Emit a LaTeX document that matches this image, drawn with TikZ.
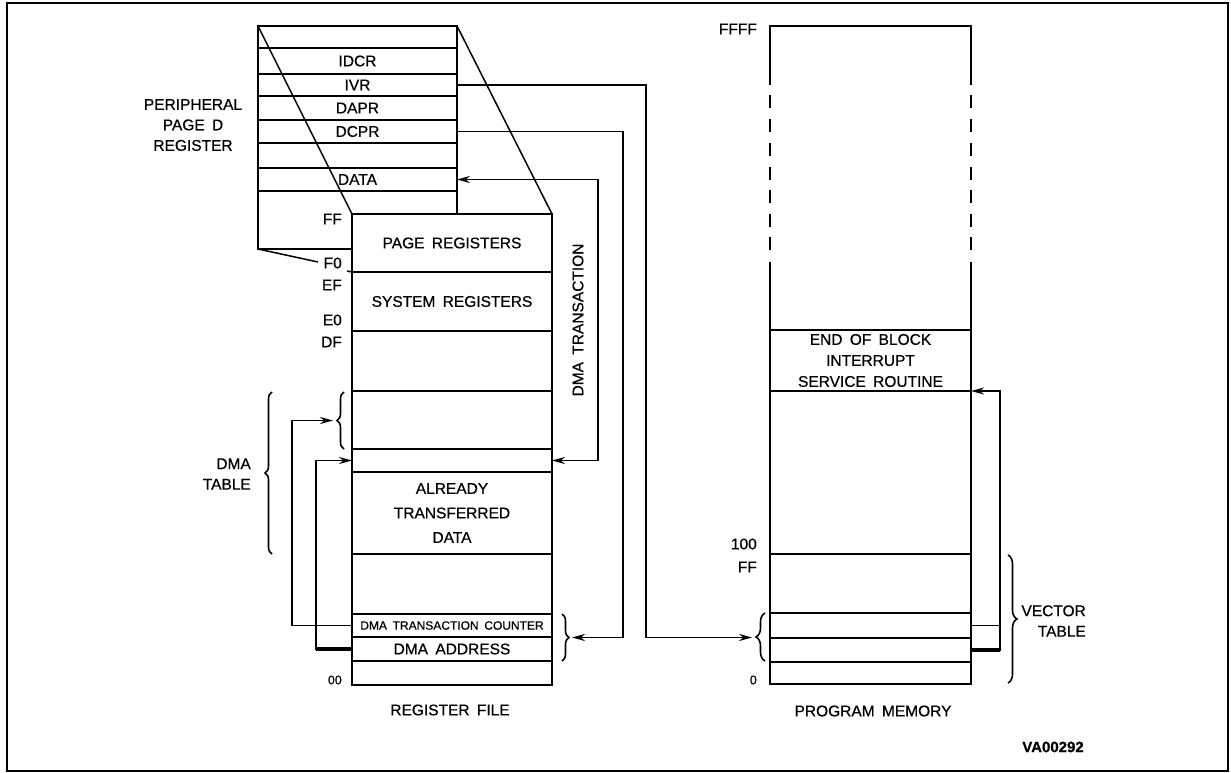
\documentclass[tikz,border=0pt]{standalone}
\usepackage{fontspec}
\setmainfont{Liberation Sans}[WordSpace=1.7,FakeBold=0.6]
\usetikzlibrary{arrows.meta,decorations.pathreplacing}
\begin{document}
\begin{tikzpicture}[x=1pt,y=-1pt,
  cell/.style={draw, line width=1.9pt, anchor=north west, inner sep=0pt, outer sep=0pt, font=\fontsize{15.5}{18}\selectfont},
  lbl/.style={inner sep=0pt, font=\fontsize{15.5}{20.5}\selectfont},
  small/.style={inner sep=0pt, font=\fontsize{12.5}{15}\selectfont},
  conn/.style={line width=1.9pt},
  tip/.style={-{Stealth[length=13pt,width=7pt]}},
  dtip/.style={{Stealth[length=13pt,width=7pt]}-{Stealth[length=13pt,width=7pt]}},
  brc/.style={decorate, decoration={brace, amplitude=#1}, line width=1.6pt},
  brc/.default=7pt,
  thickline/.style={line width=3.4pt},
  diag/.style={line width=1.5pt},
]
\useasboundingbox (0,0) rectangle (1231,773);
\draw[line width=1.9pt] (7,3) rectangle (1228,771);

% ---------- peripheral page D registers ----------
\node[cell, minimum width=199pt, minimum height=22pt] (p0)   at (258,26)  {};
\node[cell, minimum width=199pt, minimum height=26pt] (idcr) at (258,48)  {IDCR};
\node[cell, minimum width=199pt, minimum height=22pt] (ivr)  at (258,74)  {IVR};
\node[cell, minimum width=199pt, minimum height=24pt] (dapr) at (258,96)  {DAPR};
\node[cell, minimum width=199pt, minimum height=23pt] (dcpr) at (258,120) {DCPR};
\node[cell, minimum width=199pt, minimum height=25pt] (pe)   at (258,143) {};
\node[cell, minimum width=199pt, minimum height=23pt] (data) at (258,168) {DATA};
\node[cell, minimum width=199pt, minimum height=58pt] (pb)   at (258,191) {};

% ---------- register file ----------
\node[cell, fill=white, minimum width=200pt, minimum height=58pt] (page) at (352,214) {PAGE REGISTERS};
\node[cell, minimum width=200pt, minimum height=59pt] (sys)  at (352,272) {SYSTEM REGISTERS};
\node[cell, minimum width=200pt, minimum height=60pt] (r2)   at (352,331) {};
\node[cell, minimum width=200pt, minimum height=58pt] (r3)   at (352,391) {};
\node[cell, minimum width=200pt, minimum height=23pt] (r4)   at (352,449) {};
\node[cell, minimum width=200pt, minimum height=82pt, align=center, font=\fontsize{15.5}{24.5}\selectfont] (already) at (352,472) {ALREADY\\TRANSFERRED\\DATA};
\node[cell, minimum width=200pt, minimum height=60pt] (r6)   at (352,554) {};
\node[cell, minimum width=200pt, minimum height=23pt, font=\fontsize{12}{14}\selectfont] (cnt) at (352,614) {DMA TRANSACTION COUNTER};
\node[cell, minimum width=200pt, minimum height=24pt] (addr) at (352,637) {DMA ADDRESS};
\node[cell, minimum width=200pt, minimum height=24pt] (r9)   at (352,661) {};

% zoom lines from peripheral page to page registers
\draw[diag] (p0.north west) -- (page.north west);
\draw[diag] (p0.north east) -- (page.north east);
\draw[diag] (pb.south west) -- (318,262);
\draw[diag] (347,271) -- (page.south west);

% register file address labels
\node[lbl, anchor=east] (aFF) at (342,219) {FF};
\node[lbl, anchor=east] (aF0) at (342,263) {F0};
\node[lbl, anchor=east] (aEF) at (342,285) {EF};
\node[lbl, anchor=east] (aE0) at (342,320) {E0};
\node[lbl, anchor=east] (aDF) at (342,342) {DF};
\node[small, anchor=east] (a00) at (342,680) {00};
\node[lbl] (rfl) at (450,710) {REGISTER FILE};

\node[lbl, align=center] (perl) at (193,125) {PERIPHERAL\\PAGE D\\REGISTER};
\node[lbl, align=right, anchor=east] (dmat) at (251,474) {DMA\\TABLE};
\node[lbl, rotate=90] (dmatr) at (578,320) {DMA TRANSACTION};

% ---------- program memory ----------
\node[anchor=north west, inner sep=0pt, outer sep=0pt, minimum width=201pt, minimum height=304pt] (ptop) at (770,26) {};
\draw[line width=1.9pt] (770,85) -- (ptop.north west) -- (ptop.north east) -- (971,85);
\draw[line width=1.9pt] (770,262) -- (ptop.south west);
\draw[line width=1.9pt] (971,262) -- (ptop.south east);
\foreach \yy in {95,119,143,167,190,214,237} {
  \draw[line width=1.9pt] (770,\yy) -- ++(0,13);
  \draw[line width=1.9pt] (971,\yy) -- ++(0,13);
}
\node[cell, minimum width=201pt, minimum height=61pt, align=center, font=\fontsize{15.5}{21}\selectfont] (eob) at (770,330) {END OF BLOCK\\INTERRUPT\\SERVICE ROUTINE};
\node[cell, minimum width=201pt, minimum height=163pt] (m2) at (770,391) {};
\node[cell, minimum width=201pt, minimum height=59pt]  (m3) at (770,554) {};
\node[cell, minimum width=201pt, minimum height=25pt]  (v1) at (770,613) {};
\node[cell, minimum width=201pt, minimum height=24pt]  (v2) at (770,638) {};
\node[cell, minimum width=201pt, minimum height=22pt]  (m6) at (770,662) {};

\node[lbl, anchor=east] (bFFFF) at (757,29) {FFFF};
\node[lbl, anchor=east] (b100) at (757,544) {100};
\node[lbl, anchor=east] (bFF) at (757,567) {FF};
\node[small, anchor=east] (b0) at (757,680) {0};
\node[lbl] (pml) at (873,711) {PROGRAM MEMORY};

\node[lbl, align=right, anchor=east] (vect) at (1086,621) {VECTOR\\TABLE};
\node[lbl, font=\bfseries\fontsize{15}{18}\selectfont] (va) at (1053,747) {VA00292};

% ---------- braces ----------
\draw[brc] (272,554) -- (272,392);
\draw[brc] (344,449) -- (344,392);
\draw[brc] (562,614) -- (562,661);
\draw[brc=9pt] (765,661) -- (765,613);
\draw[brc=9pt] (1008,555) -- (1008,683);

% ---------- connectors ----------
\coordinate (dmaX) at (598,0);
\draw[conn, dtip] (data.east) -- (data.east -| dmaX) |- (r4.east);

\coordinate (dcX) at (623,0);
\coordinate (rbtip) at (572,637.5);
\draw[conn, tip] (dcpr.east) -- (dcpr.east -| dcX) |- (rbtip);

\coordinate (ivX) at (646,0);
\coordinate (pbtip) at (752,637.5);
\draw[conn, tip] (ivr.east) -- (ivr.east -| ivX) |- (pbtip);

\coordinate (cX) at (292,0);
\coordinate (sbtip) at (333,420.5);
\draw[conn, tip] (cnt.west) -- (cnt.west -| cX) |- (sbtip);

\coordinate (aX) at (316,0);
\draw[conn, tip] (addr.west) -- (addr.west -| aX) |- (r4.west);
\draw[thickline] (addr.west) -- (addr.west -| aX);

\coordinate (vX) at (1000,0);
\draw[conn] (v1.east) -- (v1.east -| vX);
\draw[conn, tip] (v2.east) -- (v2.east -| vX) |- (m2.north east);
\draw[thickline] (v2.east) -- (v2.east -| vX);
\end{tikzpicture}
\end{document}
